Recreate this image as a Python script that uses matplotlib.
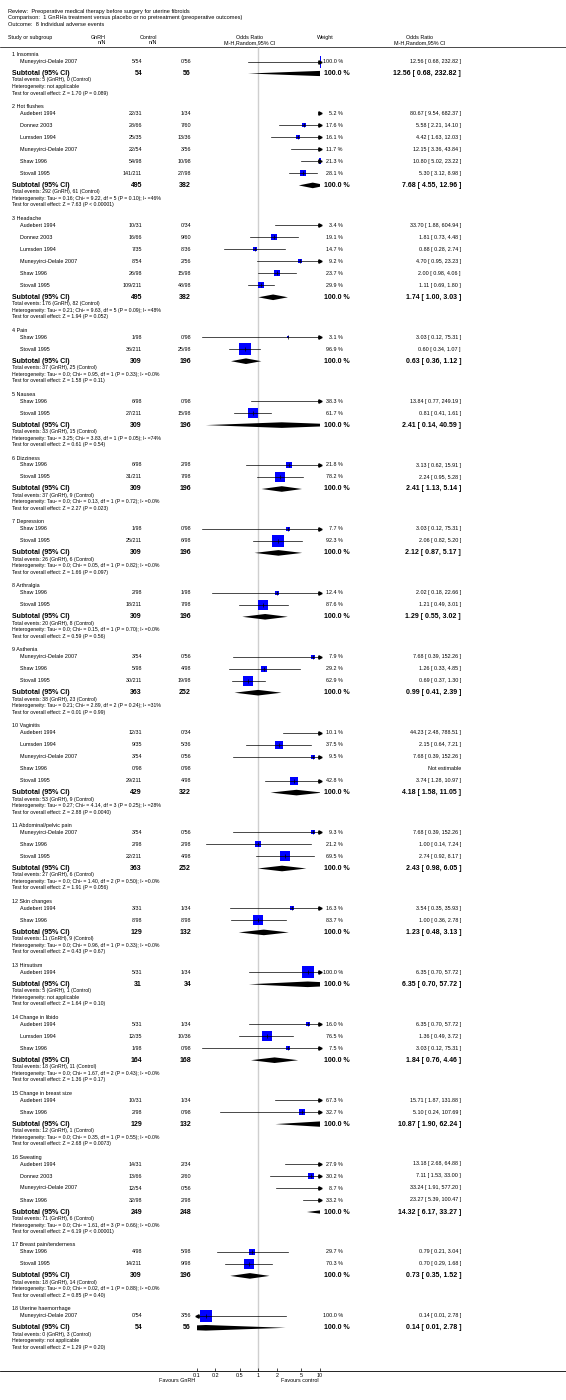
import matplotlib
matplotlib.use('Agg')
import matplotlib.pyplot as plt
from matplotlib.patches import Polygon

plt.rcParams['font.family'] = ['Liberation Sans', 'DejaVu Sans']

# ---- data ----
groups = ['1 Insomnia', '2 Hot flushes', '3 Headache', '4 Pain', '5 Nausea', '6 Dizziness',
          '7 Depression', '8 Arthralgia', '9 Asthenia', '10 Vaginitis', '11 Abdominal/pelvic pain',
          '12 Skin changes', '13 Hirsutism', '14 Change in libido', '15 Change in breast size',
          '16 Sweating', '17 Breast pain/tenderness', '18 Uterine haemorrhage']

MD = 'Muneyyirci-Delale 2007'
ALL6 = ['Audebert 1994', 'Donnez 2003', 'Lumsden 1994', MD, 'Shaw 1996', 'Stovall 1995']
SS = ['Shaw 1996', 'Stovall 1995']
studies = [[MD], ALL6, ALL6, SS, SS, SS, SS, SS,
           [MD, 'Shaw 1996', 'Stovall 1995'],
           ['Audebert 1994', 'Lumsden 1994', MD, 'Shaw 1996', 'Stovall 1995'],
           [MD, 'Shaw 1996', 'Stovall 1995'],
           ['Audebert 1994', 'Shaw 1996'],
           ['Audebert 1994'],
           ['Audebert 1994', 'Lumsden 1994', 'Shaw 1996'],
           ['Audebert 1994', 'Shaw 1996'],
           ['Audebert 1994', 'Donnez 2003', MD, 'Shaw 1996'],
           SS,
           [MD]]

# randomised per arm in each trial
gnrh_total = {'Audebert 1994': 31, 'Donnez 2003': 66, 'Lumsden 1994': 35, MD: 54,
              'Shaw 1996': 98, 'Stovall 1995': 211}
ctrl_total = {'Audebert 1994': 34, 'Donnez 2003': 60, 'Lumsden 1994': 36, MD: 56,
              'Shaw 1996': 98, 'Stovall 1995': 98}

gnrh_events = [[5], [22, 28, 25, 22, 54, 141], [10, 16, 7, 8, 26, 109], [1, 36], [6, 27],
               [6, 31], [1, 25], [2, 18], [3, 5, 30], [12, 9, 3, 0, 29], [3, 2, 22], [3, 8],
               [5], [5, 12, 1], [10, 2], [14, 13, 12, 32], [4, 14], [0]]
ctrl_events = [[0], [1, 7, 13, 3, 10, 27], [0, 9, 8, 2, 15, 48], [0, 25], [0, 15],
               [2, 7], [0, 6], [1, 7], [0, 4, 19], [0, 5, 0, 0, 4], [0, 2, 4], [1, 8],
               [1], [1, 10, 0], [1, 0], [2, 2, 0, 2], [5, 9], [3]]

weights = [[100.0], [5.2, 17.6, 16.1, 11.7, 21.3, 28.1], [3.4, 19.1, 14.7, 9.2, 23.7, 29.9],
           [3.1, 96.9], [38.3, 61.7], [21.8, 78.2], [7.7, 92.3], [12.4, 87.6],
           [7.9, 29.2, 62.9], [10.1, 37.5, 9.5, None, 42.8], [9.3, 21.2, 69.5], [16.3, 83.7],
           [100.0], [16.0, 76.5, 7.5], [67.3, 32.7], [27.9, 30.2, 8.7, 33.2], [29.7, 70.3],
           [100.0]]

odds = [[12.56], [80.67, 5.58, 4.42, 12.15, 10.80, 5.30], [33.70, 1.81, 0.88, 4.70, 2.00, 1.11],
        [3.03, 0.60], [13.84, 0.81], [3.13, 2.24], [3.03, 2.06], [2.02, 1.21],
        [7.68, 1.26, 0.69], [44.23, 2.15, 7.68, None, 3.74], [7.68, 1.00, 2.74], [3.54, 1.00],
        [6.35], [6.35, 1.36, 3.03], [15.71, 5.10], [13.18, 7.11, 33.24, 23.27], [0.79, 0.70],
        [0.14]]
ci_lo = [[0.68], [9.54, 2.21, 1.63, 3.36, 5.02, 3.12], [1.88, 0.73, 0.28, 0.95, 0.98, 0.69],
         [0.12, 0.34], [0.77, 0.41], [0.62, 0.95], [0.12, 0.82], [0.18, 0.49],
         [0.39, 0.33, 0.37], [2.48, 0.64, 0.39, None, 1.28], [0.39, 0.14, 0.92], [0.35, 0.36],
         [0.70], [0.70, 0.49, 0.12], [1.87, 0.24], [2.68, 1.53, 1.91, 5.39], [0.21, 0.29],
         [0.01]]
ci_hi = [[232.82], [682.37, 14.10, 12.03, 43.84, 23.22, 8.98], [604.94, 4.48, 2.74, 23.23, 4.06, 1.80],
         [75.31, 1.07], [249.19, 1.61], [15.91, 5.28], [75.31, 5.20], [22.66, 3.01],
         [152.26, 4.85, 1.30], [788.51, 7.21, 152.26, None, 10.97], [152.26, 7.24, 8.17],
         [35.93, 2.78], [57.72], [57.72, 3.72, 75.31], [131.88, 107.69],
         [64.88, 33.00, 577.20, 100.47], [3.04, 1.68], [2.78]]

sub_or = [12.56, 7.68, 1.74, 0.63, 2.41, 2.41, 2.12, 1.29, 0.99, 4.18, 2.43, 1.23, 6.35, 1.84,
          10.87, 14.32, 0.73, 0.14]
sub_lo = [0.68, 4.55, 1.00, 0.36, 0.14, 1.13, 0.87, 0.55, 0.41, 1.58, 0.98, 0.48, 0.70, 0.76,
          1.90, 6.17, 0.35, 0.01]
sub_hi = [232.82, 12.96, 3.03, 1.12, 40.59, 5.14, 5.17, 3.02, 2.39, 11.05, 6.05, 3.13, 57.72,
          4.46, 62.24, 33.27, 1.52, 2.78]

het = ['not applicable',
       'Tau² = 0.16; Chi² = 9.22, df = 5 (P = 0.10); I² =46%',
       'Tau² = 0.21; Chi² = 9.63, df = 5 (P = 0.09); I² =48%',
       'Tau² = 0.0; Chi² = 0.95, df = 1 (P = 0.33); I² =0.0%',
       'Tau² = 3.25; Chi² = 3.83, df = 1 (P = 0.05); I² =74%',
       'Tau² = 0.0; Chi² = 0.13, df = 1 (P = 0.72); I² =0.0%',
       'Tau² = 0.0; Chi² = 0.05, df = 1 (P = 0.82); I² =0.0%',
       'Tau² = 0.0; Chi² = 0.15, df = 1 (P = 0.70); I² =0.0%',
       'Tau² = 0.21; Chi² = 2.89, df = 2 (P = 0.24); I² =31%',
       'Tau² = 0.27; Chi² = 4.14, df = 3 (P = 0.25); I² =28%',
       'Tau² = 0.0; Chi² = 1.40, df = 2 (P = 0.50); I² =0.0%',
       'Tau² = 0.0; Chi² = 0.96, df = 1 (P = 0.33); I² =0.0%',
       'not applicable',
       'Tau² = 0.0; Chi² = 1.67, df = 2 (P = 0.43); I² =0.0%',
       'Tau² = 0.0; Chi² = 0.35, df = 1 (P = 0.55); I² =0.0%',
       'Tau² = 0.0; Chi² = 1.61, df = 3 (P = 0.66); I² =0.0%',
       'Tau² = 0.0; Chi² = 0.02, df = 1 (P = 0.88); I² =0.0%',
       'not applicable']
overall = ['Z = 1.70 (P = 0.089)', 'Z = 7.63 (P < 0.00001)', 'Z = 1.94 (P = 0.052)',
           'Z = 1.58 (P = 0.11)', 'Z = 0.61 (P = 0.54)', 'Z = 2.27 (P = 0.023)',
           'Z = 1.66 (P = 0.097)', 'Z = 0.59 (P = 0.56)', 'Z = 0.01 (P = 0.99)',
           'Z = 2.88 (P = 0.0040)', 'Z = 1.91 (P = 0.056)', 'Z = 0.43 (P = 0.67)',
           'Z = 1.64 (P = 0.10)', 'Z = 1.36 (P = 0.17)', 'Z = 2.68 (P = 0.0073)',
           'Z = 6.19 (P < 0.00001)', 'Z = 0.85 (P = 0.40)', 'Z = 1.29 (P = 0.20)']

ticks = [0.1, 0.2, 0.5, 1, 2, 5, 10]
tick_labels = ['0.1', '0.2', '0.5', '1', '2', '5', '10']

# ---- layout (pixels, y from top) ----
W, H = 566, 1400
AXIS_Y = 1370.5
HEAD_LINE = 47
FIRST = 54.5
ROW = 12
HEAD_GAP = 7
GROUP_GAP = 39.9
X_LO, X_HI = 196.8, 319.8     # pixel columns of 0.1 and 10
FS, FSB, FSS = 3.9, 5.0, 3.7
BLUE = '#0000ff'

fig = plt.figure(figsize=(W / 100, H / 100), dpi=100)
tx = fig.add_axes([0, 0, 1, 1])
tx.set_xlim(0, W)
tx.set_ylim(H, 0)
tx.axis('off')

ax = fig.add_axes([X_LO / W, (H - AXIS_Y) / H, (X_HI - X_LO) / W, AXIS_Y / H])
ax.patch.set_alpha(0)
ax.set_xscale('log')
ax.set_xlim(0.1, 10)
ax.set_ylim(AXIS_Y, 0)
for s in ax.spines.values():
    s.set_visible(False)
ax.set_yticks([])
ax.set_xticks(ticks)
ax.set_xticklabels(tick_labels)
ax.minorticks_off()
ax.tick_params(axis='x', direction='in', length=2, width=0.5, labelsize=FS, pad=1.5)


def txt(x, y, s, ha='left', bold=False, size=FS):
    tx.text(x, y, s, ha=ha, va='center', fontsize=size,
            fontweight='bold' if bold else 'normal')


# header
txt(8, 11, 'Review:  Preoperative medical therapy before surgery for uterine fibroids', size=4.1)
txt(8, 18, 'Comparison:  1 GnRHa treatment versus placebo or no pretreatment (preoperative outcomes)', size=4.1)
txt(8, 25, 'Outcome:  8 Individual adverse events', size=4.1)
txt(8, 37.5, 'Study or subgroup')
txt(106, 37.5, 'GnRH', ha='right')
txt(106, 43, 'n/N', ha='right')
txt(157, 37.5, 'Control', ha='right')
txt(157, 43, 'n/N', ha='right')
txt(250, 37.5, 'Odds Ratio', ha='center')
txt(250, 43, 'M-H,Random,95% CI', ha='center')
txt(325, 37.5, 'Weight', ha='center')
txt(420, 37.5, 'Odds Ratio', ha='center')
txt(420, 43, 'M-H,Random,95% CI', ha='center')
tx.axhline(HEAD_LINE, color='black', lw=0.5)
tx.axhline(AXIS_Y, color='black', lw=0.6)
ax.vlines(1, HEAD_LINE, AXIS_Y, color='#cfcfcf', lw=1.0, zorder=0)

y = FIRST
for g, name in enumerate(groups):
    txt(12, y, name)
    ys = y + HEAD_GAP
    for i, st in enumerate(studies[g]):
        txt(20, ys, st)
        txt(142, ys, f'{gnrh_events[g][i]}/{gnrh_total[st]}', ha='right')
        txt(191, ys, f'{ctrl_events[g][i]}/{ctrl_total[st]}', ha='right')
        o, lo, hi, w = odds[g][i], ci_lo[g][i], ci_hi[g][i], weights[g][i]
        if o is None:
            txt(461, ys, 'Not estimable', ha='right')
            ys += ROW
            continue
        txt(343, ys, f'{w:.1f} %', ha='right')
        txt(461, ys, f'{o:.2f} [ {lo:.2f}, {hi:.2f} ]', ha='right')
        side = 11.7 * (w / 100) ** 0.5 * 0.72
        ax.scatter([o], [ys], s=side ** 2, marker='s', color=BLUE, linewidths=0, zorder=2)
        ax.plot([max(lo, 0.1), min(hi, 10)], [ys, ys], color='black', lw=0.5, zorder=3)
        ax.plot([o], [ys], marker='|', ms=2.4, mew=0.5, color='black', zorder=4)
        if hi > 10:
            ax.plot([10], [ys], marker='>', ms=2.4, color='black', clip_on=False, zorder=4)
        if lo < 0.1:
            ax.plot([0.1], [ys], marker='<', ms=2.4, color='black', clip_on=False, zorder=4)
        ys += ROW
    # subtotal row
    n_g = sum(gnrh_total[s] for s in studies[g])
    n_c = sum(ctrl_total[s] for s in studies[g])
    txt(12, ys, 'Subtotal (95% CI)', bold=True, size=FSB)
    txt(142, ys, str(n_g), ha='right', bold=True, size=FSB)
    txt(191, ys, str(n_c), ha='right', bold=True, size=FSB)
    txt(350, ys, '100.0 %', ha='right', bold=True, size=FSB)
    txt(461, ys, f'{sub_or[g]:.2f} [ {sub_lo[g]:.2f}, {sub_hi[g]:.2f} ]', ha='right',
        bold=True, size=FSB)
    dh = 2.8
    ax.add_patch(Polygon([(sub_lo[g], ys), (sub_or[g], ys - dh), (sub_hi[g], ys),
                          (sub_or[g], ys + dh)], closed=True, color='black', lw=0, zorder=3))
    txt(12, ys + 6.5, f'Total events: {sum(gnrh_events[g])} (GnRH), {sum(ctrl_events[g])} (Control)',
        size=FSS)
    txt(12, ys + 13, 'Heterogeneity: ' + het[g], size=FSS)
    txt(12, ys + 19.5, 'Test for overall effect: ' + overall[g], size=FSS)
    y += GROUP_GAP + ROW * len(studies[g])

txt(177, 1381, 'Favours GnRH', ha='center')
txt(300, 1381, 'Favours control', ha='center')

fig.savefig('out.png', dpi=100)
